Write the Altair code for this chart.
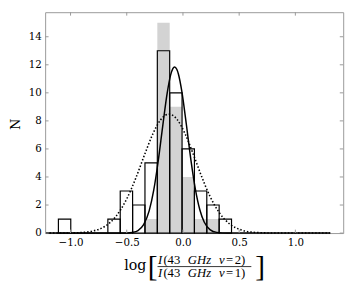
import altair as alt
import pandas as pd

# ---- data ----
bin_lo = [-1.108, -0.998, -0.888, -0.778, -0.668, -0.558, -0.448, -0.338, -0.228, -0.118, -0.008, 0.102, 0.212, 0.322]
bin_hi = [-0.998, -0.888, -0.778, -0.668, -0.558, -0.448, -0.338, -0.228, -0.118, -0.008, 0.102, 0.212, 0.322, 0.432]
outline_counts = [1, 0, 0, 0, 1, 3, 2, 5, 13, 10, 6, 3, 2, 1]
grey_counts = [0, 0, 0, 0, 0, 0, 0, 1, 15, 9, 4, 1, 1, 0]

solid_x = [-1.217, -0.60, -0.50, -0.45, -0.40, -0.35, -0.30, -0.26, -0.22, -0.18, -0.14, -0.11, -0.09,
           -0.074, -0.055, -0.04, -0.01, 0.03, 0.07, 0.11, 0.15, 0.19, 0.24, 0.30, 0.40, 1.31]
solid_y = [0, 0, 0.01, 0.05, 0.18, 0.60, 1.60, 3.06, 5.14, 7.63, 9.99, 11.26, 11.73,
           11.85, 11.68, 11.33, 10.10, 7.76, 5.26, 3.15, 1.66, 0.77, 0.25, 0.05, 0, 0]

dotted_x = [-1.217, -1.0, -0.9, -0.8, -0.7, -0.6, -0.5, -0.42, -0.34, -0.27, -0.20, -0.16, -0.124,
            -0.09, -0.05, 0.02, 0.09, 0.16, 0.24, 0.32, 0.42, 0.52, 0.62, 0.75, 0.9, 1.31]
dotted_y = [0, 0.01, 0.04, 0.15, 0.45, 1.15, 2.44, 3.91, 5.62, 7.03, 8.06, 8.38, 8.48,
            8.39, 8.08, 7.06, 5.66, 4.16, 2.63, 1.49, 0.62, 0.22, 0.06, 0.01, 0, 0]

x_ticks = [-1.0, -0.5, 0.0, 0.5, 1.0]
y_ticks = [0, 2, 4, 6, 8, 10, 12, 14]

# ---- layout ----
W, H = 305, 226
FRAME = "#999999"
FONT = "DejaVu Serif"
MATH = "Liberation Serif"

hist = pd.DataFrame({"lo": bin_lo, "hi": bin_hi, "n": outline_counts, "g": grey_counts})
solid = pd.DataFrame({"x": solid_x, "y": solid_y})
dotted = pd.DataFrame({"x": dotted_x, "y": dotted_y})
xt = pd.DataFrame({"t": x_ticks})
yt = pd.DataFrame({"t": y_ticks})

xs = alt.Scale(domain=[-1.226, 1.4255], nice=False, zero=False)
ys = alt.Scale(domain=[0, 15.75], nice=False)
xaxis = alt.Axis(values=x_ticks, format=".1f", title=None, domain=False, ticks=False, grid=False,
                 labelPadding=5, labelFont=FONT, labelFontSize=10.5, labelColor="black")
yaxis = alt.Axis(values=y_ticks, format="d", title="N", domain=False, ticks=False, grid=False,
                 labelPadding=4, labelFont=FONT, labelFontSize=10.5, labelColor="black",
                 titleFont=FONT, titleFontSize=13, titleFontWeight="normal", titleColor="black",
                 titleX=-30, titleY=114, titleAlign="center", titleBaseline="middle")


def X(f):
    return alt.X(f, type="quantitative", scale=xs, axis=xaxis)


def Y(f):
    return alt.Y(f, type="quantitative", scale=ys, axis=yaxis)


grey = alt.Chart(hist).mark_rect(color="#d3d3d3").encode(
    x=X("lo"), x2="hi", y=Y("g"), y2=alt.datum(0))
outline = alt.Chart(hist).mark_rect(fillOpacity=0, stroke="black", strokeWidth=1.2).encode(
    x=X("lo"), x2="hi", y=Y("n"), y2=alt.datum(0))
dot_line = alt.Chart(dotted).mark_line(color="black", strokeWidth=1.6, strokeDash=[1.5, 2.0],
                                       interpolate="monotone").encode(x=X("x"), y=Y("y"))
sol_line = alt.Chart(solid).mark_line(color="black", strokeWidth=1.5,
                                      interpolate="monotone").encode(x=X("x"), y=Y("y"))

TL = 3.5
tick_b = alt.Chart(xt).mark_rule(color=FRAME).encode(x=X("t"), y=alt.value(H), y2=alt.value(H - TL))
tick_t = alt.Chart(xt).mark_rule(color=FRAME).encode(x=X("t"), y=alt.value(0), y2=alt.value(TL))
tick_l = alt.Chart(yt).mark_rule(color=FRAME).encode(y=Y("t"), x=alt.value(0), x2=alt.value(TL))
tick_r = alt.Chart(yt).mark_rule(color=FRAME).encode(y=Y("t"), x=alt.value(W), x2=alt.value(W - TL))

base = alt.Chart(pd.DataFrame({"d": [0]}))


def txt(s, x, y, size=13, style="normal", font=MATH, align="left"):
    return base.mark_text(text=s, font=font, fontSize=size, fontStyle=style, align=align,
                          baseline="alphabetic", color="black").encode(x=alt.value(x), y=alt.value(y))


NUM_B, DEN_B = 257.5, 270.5


def frac_line(y, digit):
    return [
        txt("I", 115.5, y, style="italic"),
        txt("(43", 121, y),
        txt("GHz", 146, y, style="italic"),
        txt("v", 178, y, style="italic"),
        txt("=", 185, y),
        txt(digit + ")", 194, y),
    ]


label_parts = [
    txt("log", 81, 263.5, size=14.5, font=FONT),
    txt("[", 115, 269.7, size=30, align="right"),
    txt("]", 225, 269.7, size=30, align="right"),
    *frac_line(NUM_B, "2"),
    *frac_line(DEN_B, "1"),
    base.mark_rule(color="black", strokeWidth=0.8).encode(
        x=alt.value(115), x2=alt.value(211), y=alt.value(260.3)),
]

chart = alt.layer(grey, outline, dot_line, sol_line, tick_b, tick_t, tick_l, tick_r, *label_parts).properties(
    width=W, height=H,
    autosize=alt.AutoSizeParams(type="none"),
    padding={"left": 38, "top": 1, "right": 9, "bottom": 57},
).configure_view(stroke=FRAME, strokeWidth=1)

chart.save("out.html", embed_options={"renderer": "svg", "actions": False})
